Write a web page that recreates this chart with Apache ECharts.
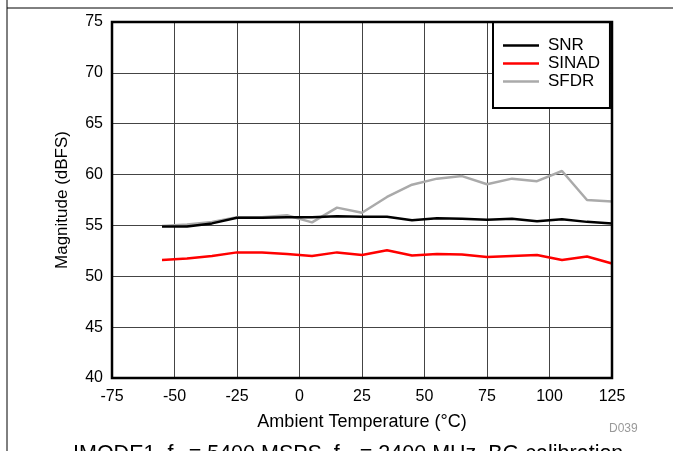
<!DOCTYPE html>
<html>
<head>
<meta charset="utf-8">
<script src="https://cdn.jsdelivr.net/npm/echarts@6/dist/echarts.min.js"></script>
<style>
  html, body { margin: 0; padding: 0; background: #fff; }
  #chart { width: 673px; height: 451px; }
</style>
</head>
<body>
<div id="chart"></div>
<script>
// ambient temperature (°C)
const temps = [-55, -45, -35, -25, -15, -5, 5, 15, 25, 35, 45, 55, 65, 75, 85, 95, 105, 115, 125]
const snr   = [54.9, 54.9, 55.2, 55.75, 55.75, 55.8, 55.8, 55.9, 55.85, 55.85, 55.5, 55.7, 55.65, 55.55, 55.65, 55.4, 55.6, 55.35, 55.2]
const sinad = [51.6, 51.75, 52.0, 52.35, 52.35, 52.2, 52.0, 52.35, 52.1, 52.55, 52.05, 52.2, 52.15, 51.9, 52.0, 52.1, 51.6, 51.95, 51.25]
const sfdr  = [54.95, 55.1, 55.35, 55.8, 55.8, 56.0, 55.3, 56.75, 56.25, 57.8, 59.0, 59.6, 59.85, 59.05, 59.6, 59.35, 60.35, 57.5, 57.35]

const font = '"Liberation Sans", Arial, sans-serif'

function pairs(ys) {
  return temps.map((t, i) => [t, ys[i]])
}

let chart = echarts.init(document.getElementById('chart'))

chart.setOption({
  animation: false,
  grid: {
    left: 112, top: 22, right: 61, bottom: 73,
    show: true,
    borderColor: '#000',
    borderWidth: 2.5,
    z: 5
  },
  xAxis: {
    type: 'value',
    min: -75, max: 125, interval: 25,
    name: 'Ambient Temperature (°C)',
    nameLocation: 'middle',
    nameGap: 35,
    nameTextStyle: { fontFamily: font, fontSize: 18, color: '#000' },
    axisLine: { show: false },
    axisTick: { show: false },
    axisLabel: { fontFamily: font, fontSize: 16, color: '#000', margin: 11 },
    splitLine: { lineStyle: { color: '#444', width: 1 } }
  },
  yAxis: {
    type: 'value',
    min: 40, max: 75, interval: 5,
    name: 'Magnitude (dBFS)',
    nameLocation: 'middle',
    nameGap: 41,
    nameTextStyle: { fontFamily: font, fontSize: 17, color: '#000' },
    axisLine: { show: false },
    axisTick: { show: false },
    axisLabel: { fontFamily: font, fontSize: 16, color: '#000', margin: 9 },
    splitLine: { lineStyle: { color: '#444', width: 1 } }
  },
  legend: {
    orient: 'vertical',
    left: 493, top: 22,
    padding: [15, 10, 18, 10],
    itemGap: 1,
    itemWidth: 36,
    itemHeight: 2.5,
    icon: 'rect',
    backgroundColor: '#fff',
    borderColor: '#000',
    borderWidth: 2,
    borderRadius: 0,
    textStyle: { fontFamily: font, fontSize: 17, color: '#000', padding: [0, 0, 0, 4], lineHeight: 15 },
    data: ['SNR', 'SINAD', 'SFDR']
  },
  series: [
    { name: 'SFDR', type: 'line', data: pairs(sfdr), symbol: 'none',
      lineStyle: { color: '#aaaaaa', width: 2.5 }, itemStyle: { color: '#aaaaaa' }, z: 2 },
    { name: 'SNR', type: 'line', data: pairs(snr), symbol: 'none',
      lineStyle: { color: '#000', width: 2.5 }, itemStyle: { color: '#000' }, z: 3 },
    { name: 'SINAD', type: 'line', data: pairs(sinad), symbol: 'none',
      lineStyle: { color: '#ff0000', width: 2.5 }, itemStyle: { color: '#ff0000' }, z: 3 }
  ],
  graphic: [
    { type: 'line', shape: { x1: 7, y1: 8, x2: 673, y2: 8 }, style: { stroke: '#000', lineWidth: 1 } },
    { type: 'line', shape: { x1: 7, y1: 0, x2: 7, y2: 451 }, style: { stroke: '#000', lineWidth: 1 } },
    { type: 'text', left: 609, top: 423,
      style: { text: 'D039', fill: '#999', font: '12px ' + font } },
    { type: 'text', left: 73, top: 443,
      style: {
        text: 'IMODE1, f{s|S} = 5400 MSPS, f{s|IN} = 2400 MHz, BG calibration',
        fill: '#000', font: '21.5px ' + font,
        rich: { s: { fontSize: 14, fontFamily: font, fill: '#000', verticalAlign: 'bottom' } }
      } }
  ]
})
</script>
</body>
</html>
